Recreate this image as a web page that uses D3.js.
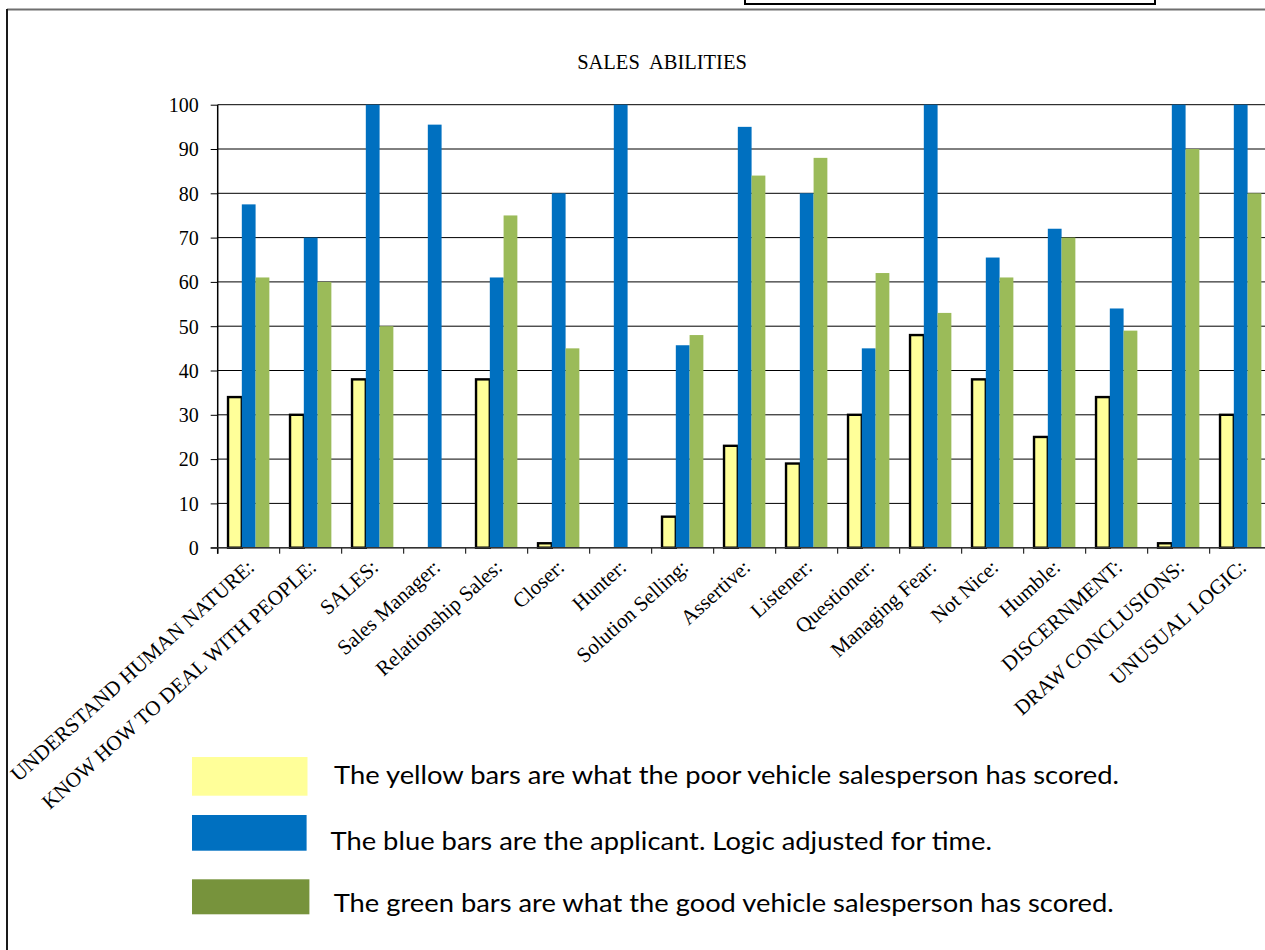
<!DOCTYPE html>
<html>
<head>
<meta charset="utf-8">
<script src="https://cdn.jsdelivr.net/npm/d3@7/dist/d3.min.js"></script>
<style>
  html, body { margin: 0; padding: 0; background: #fff; }
  svg { display: block; }
</style>
</head>
<body>
<svg id="chart" width="1265" height="950"></svg>
<script>
// Sales abilities: three score series per category
const categories = [
  "UNDERSTAND HUMAN NATURE:", "KNOW HOW TO DEAL WITH PEOPLE:", "SALES:", "Sales Manager:",
  "Relationship Sales:", "Closer:", "Hunter:", "Solution Selling:", "Assertive:",
  "Listener:", "Questioner:", "Managing Fear:", "Not Nice:", "Humble:",
  "DISCERNMENT:", "DRAW CONCLUSIONS:", "UNUSUAL LOGIC:"
];
const poorScores      = [34, 30, 38, 0, 38, 1, 0, 7, 23, 19, 30, 48, 38, 25, 34, 1, 30];
const applicantScores = [77.5, 70, 100, 95.5, 61, 80, 100, 45.7, 95, 80, 45, 100, 65.5, 72, 54, 100, 100];
const goodScores      = [61, 60, 50, 0, 75, 45, 0, 48, 84, 88, 62, 53, 61, 70, 49, 90, 80];
const yTicks = [0, 10, 20, 30, 40, 50, 60, 70, 80, 90, 100];

const seriesNames = ["poor", "applicant", "good"];
const seriesValues = [poorScores, applicantScores, goodScores];
const barColors = { poor: "#FFFF99", applicant: "#0070C0", good: "#9BBB59" };

const legendItems = [
  { key: "poor", color: "#FFFF99", text: "The yellow bars are what the poor vehicle salesperson has scored." },
  { key: "applicant", color: "#0070C0", text: "The blue bars are the applicant. Logic adjusted for time." },
  { key: "good", color: "#77933C", text: "The green bars are what the good vehicle salesperson has scored." }
];

const svg = d3.select("#chart");

// page frame and the box at the top edge
svg.append("line").attr("x1", 7).attr("x2", 1265).attr("y1", 9.5).attr("y2", 9.5)
  .attr("stroke", "#6f6f6f").attr("stroke-width", 2);
svg.append("line").attr("x1", 7).attr("x2", 7).attr("y1", 9).attr("y2", 950)
  .attr("stroke", "#1a1a1a").attr("stroke-width", 2);
svg.append("rect").attr("x", 745).attr("y", -10).attr("width", 410).attr("height", 14)
  .attr("fill", "#fff").attr("stroke", "#000").attr("stroke-width", 2);

// plot geometry
const plotLeft = 217.7, plotTop = 104.7, plotBottom = 547.7;
const bandW = 62;
const plotRight = plotLeft + bandW * categories.length;

const x = d3.scaleBand().domain(d3.range(categories.length)).range([plotLeft, plotRight]).paddingInner(0).paddingOuter(0);
const y = d3.scaleLinear().domain([0, 100]).range([plotBottom, plotTop]);
const barW = bandW / 4.5;
const xs = d3.scaleBand().domain(seriesNames).range([barW * 0.75, bandW - barW * 0.75]).padding(0);

const serif = "'Liberation Serif', 'Times New Roman', serif";

// title
svg.append("text").attr("x", 662).attr("y", 69.3).attr("text-anchor", "middle")
  .attr("font-family", serif).attr("font-size", 20.5).attr("fill", "#000")
  .style("white-space", "pre").text("SALES  ABILITIES");

// gridlines
svg.append("g").selectAll("line").data(yTicks).join("line")
  .attr("x1", plotLeft).attr("x2", 1265)
  .attr("y1", d => y(d)).attr("y2", d => y(d))
  .attr("stroke", "#000").attr("stroke-width", 1);

// y axis
const yAxis = d3.axisLeft(y).tickValues(yTicks).tickSize(7).tickPadding(12);
const gy = svg.append("g").attr("transform", `translate(${plotLeft},0)`).call(yAxis);
gy.select(".domain").remove();
gy.selectAll(".tick line").attr("stroke", "#000");
gy.selectAll(".tick text").attr("font-family", serif).attr("font-size", 20).attr("fill", "#000")
  .attr("dy", "0.34em");
svg.append("line").attr("x1", plotLeft).attr("x2", plotLeft).attr("y1", plotTop).attr("y2", plotBottom + 6)
  .attr("stroke", "#000").attr("stroke-width", 1.5);

// x axis ticks (category boundaries)
const bounds = d3.range(categories.length + 1);
svg.append("g").selectAll("line").data(bounds).join("line")
  .attr("x1", d => plotLeft + d * bandW).attr("x2", d => plotLeft + d * bandW)
  .attr("y1", plotBottom).attr("y2", plotBottom + 6)
  .attr("stroke", "#000").attr("stroke-width", 1);

// bars
const rows = [];
categories.forEach((c, i) => {
  seriesNames.forEach((s, k) => rows.push({ i, s, v: seriesValues[k][i] }));
});
svg.append("g").selectAll("rect").data(rows.filter(d => d.v > 0)).join("rect")
  .attr("x", d => x(d.i) + xs(d.s))
  .attr("y", d => y(d.v))
  .attr("width", xs.bandwidth())
  .attr("height", d => y(0) - y(d.v))
  .attr("fill", d => barColors[d.s])
  .attr("stroke", d => d.s === "poor" ? "#000" : "none")
  .attr("stroke-width", 2.4);

// baseline over the bars
svg.append("line").attr("x1", plotLeft - 7).attr("x2", 1265).attr("y1", plotBottom).attr("y2", plotBottom)
  .attr("stroke", "#333").attr("stroke-width", 1.5);

// rotated category labels
svg.append("g").selectAll("text").data(categories).join("text")
  .attr("transform", (d, i) => `translate(${x(i) + bandW / 2 + 7},569) rotate(-42)`)
  .attr("text-anchor", "end")
  .attr("font-family", serif).attr("font-size", 21).attr("fill", "#000")
  .text(d => d);

// legend
const legendRects = [
  { x: 192, y: 757, w: 115.5, h: 38.7 },
  { x: 192, y: 815, w: 114.6, h: 35.7 },
  { x: 192, y: 879.3, w: 117.4, h: 35 }
];
const legendText = [
  { x: 334, y: 784, len: 785 },
  { x: 330.5, y: 850, len: 661.5 },
  { x: 333.7, y: 911.5, len: 780 }
];
const lg = svg.append("g");
lg.selectAll("rect").data(legendItems).join("rect")
  .attr("x", (d, i) => legendRects[i].x).attr("y", (d, i) => legendRects[i].y)
  .attr("width", (d, i) => legendRects[i].w).attr("height", (d, i) => legendRects[i].h)
  .attr("fill", d => d.color);
lg.selectAll("text").data(legendItems).join("text")
  .attr("x", (d, i) => legendText[i].x).attr("y", (d, i) => legendText[i].y)
  .attr("textLength", (d, i) => legendText[i].len).attr("lengthAdjust", "spacingAndGlyphs")
  .attr("font-family", "Lato, 'Open Sans', sans-serif").attr("font-size", 25).attr("fill", "#000")
  .text(d => d.text);
</script>
</body>
</html>
